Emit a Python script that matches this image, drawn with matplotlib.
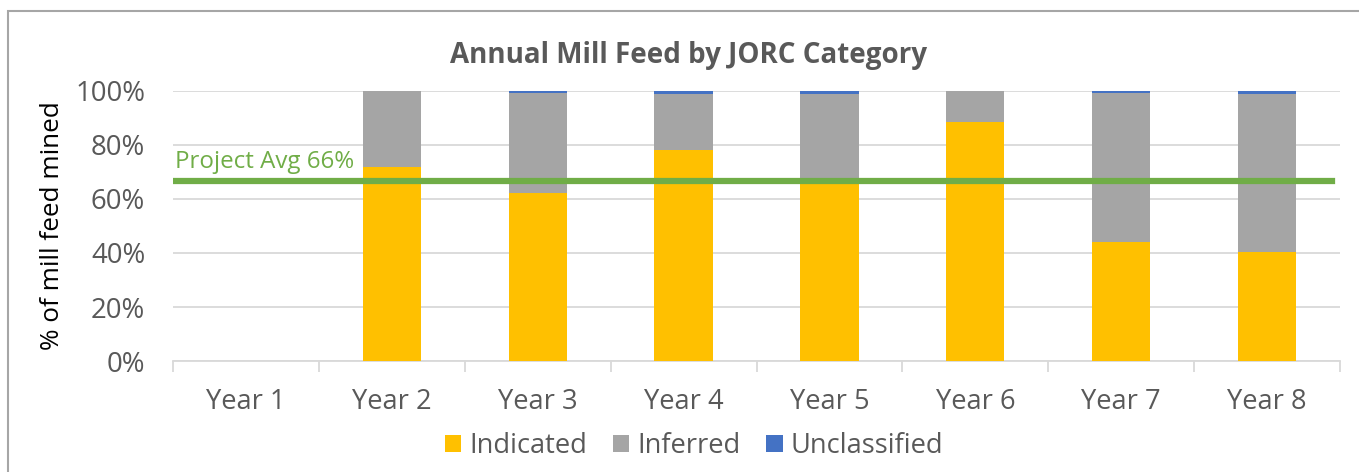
import matplotlib
matplotlib.use("Agg")
import matplotlib.pyplot as plt
from matplotlib.patches import Rectangle
from matplotlib.ticker import FixedLocator, FuncFormatter
import numpy as np

plt.rcParams['font.family'] = ['Open Sans', 'DejaVu Sans']

categories = ["Year 1", "Year 2", "Year 3", "Year 4", "Year 5", "Year 6", "Year 7", "Year 8"]
indicated = [0, 72.0, 62.2, 78.1, 67.8, 88.6, 44.1, 40.3]
inferred = [0, 28.0, 37.1, 20.9, 31.2, 11.4, 55.0, 58.5]
unclassified = [0, 0.0, 0.7, 1.0, 1.0, 0.0, 0.9, 1.2]
project_avg = 66.7
avg_label = "Project Avg 66%"
title = "Annual Mill Feed by JORC Category"
ylabel = "% of mill feed mined"
yticks = [0, 20, 40, 60, 80, 100]

c_ind = "#FFC000"
c_inf = "#A5A5A5"
c_unc = "#4472C4"
c_avg = "#70AD47"
tick_col = "#595959"

fig = plt.figure(figsize=(13.59, 4.72), dpi=100)
ax = fig.add_axes([173/1359, 1-361/472, (1340-173)/1359, (361-91)/472])

x = np.arange(len(categories))
w = 0.4
ind = np.array(indicated); inf = np.array(inferred); unc = np.array(unclassified)
ax.bar(x, ind, w, color=c_ind, label="Indicated", zorder=3)
ax.bar(x, inf, w, bottom=ind, color=c_inf, label="Inferred", zorder=3)
ax.bar(x, unc, w, bottom=ind+inf, color=c_unc, label="Unclassified", zorder=3)

ax.set_xlim(-0.5, len(categories)-0.5)
ax.set_ylim(0, 100)
ax.axhline(project_avg, xmin=0.002, xmax=0.993, color=c_avg, lw=4.5, zorder=4)
ax.text(-0.485, project_avg + 2.6, avg_label, color=c_avg, fontsize=17.4,
        ha='left', va='bottom', zorder=5)

ax.set_yticks(yticks)
ax.yaxis.set_major_formatter(FuncFormatter(lambda v, p: f"{int(v)}%"))
ax.grid(axis='y', color='#D9D9D9', lw=1.3, zorder=0)
ax.set_axisbelow(True)
for s in ['top', 'right', 'left']:
    ax.spines[s].set_visible(False)
ax.spines['bottom'].set_color('#D9D9D9')
ax.spines['bottom'].set_linewidth(1.3)
ax.spines['bottom'].set_zorder(2)
ax.set_xticks(x)
ax.set_xticklabels(categories)
ax.xaxis.set_minor_locator(FixedLocator(np.arange(-0.5, len(categories), 1.0)))
ax.tick_params(axis='x', which='major', length=0, pad=19.5, labelsize=19.6, labelcolor=tick_col)
ax.tick_params(axis='x', which='minor', length=8, color='#D9D9D9', width=1.3)
ax.tick_params(axis='y', length=0, pad=20, labelsize=19.8, labelcolor=tick_col)
ax.set_ylabel(ylabel, fontsize=18.8, color='black', labelpad=7)

fig.text(689/1359, 1-55/472, title, fontsize=20, fontweight='bold', color=tick_col,
         ha='center', va='center')

leg = fig.legend(loc='center', bbox_to_anchor=(694/1359, 1-446/472), ncol=3, frameon=False,
                 fontsize=19.6, handlelength=0.6, handleheight=0.6, handletextpad=0.3,
                 columnspacing=0.95, labelcolor=tick_col)

fig.patches.append(Rectangle((8/1359, -0.1), 1.2, 1-11/472+0.1, transform=fig.transFigure,
                             fill=False, edgecolor='#A6A6A6', lw=1.5))

fig.savefig("out.png", dpi=100)
